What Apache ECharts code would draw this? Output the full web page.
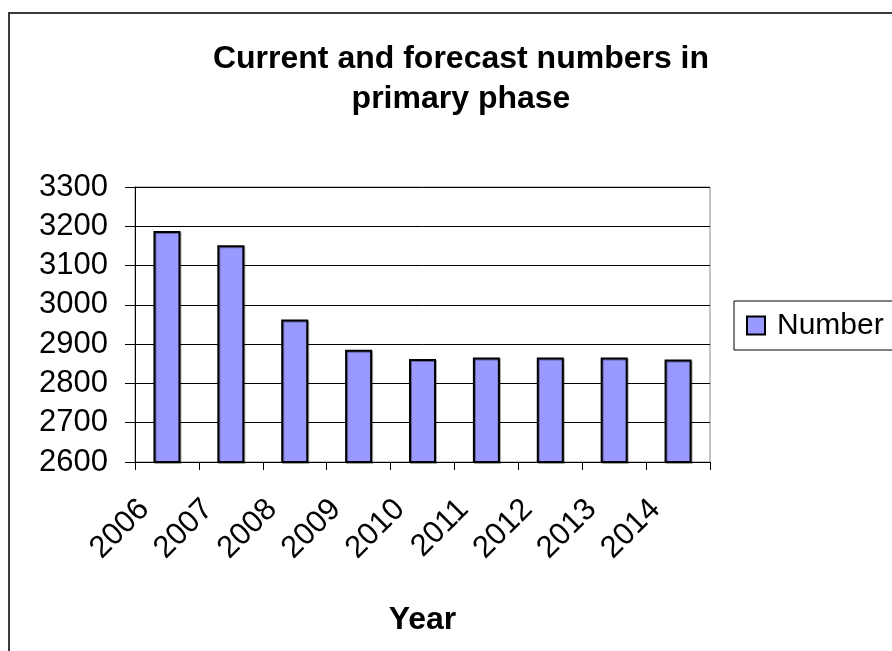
<!DOCTYPE html>
<html lang="en">
<head>
    <meta charset="UTF-8">
    <title>Current and forecast numbers</title>
    <script src="https://cdn.jsdelivr.net/npm/echarts@6/dist/echarts.min.js"></script>
    <style>
        html, body { margin: 0; padding: 0; background: #fff; }
        #main { width: 892px; height: 651px; }
    </style>
</head>
<body>
<div id="main"></div>
<script type="text/javascript">
    // data
    var years = ['2006', '2007', '2008', '2009', '2010', '2011', '2012', '2013', '2014'];
    var numbers = [3188, 3152, 2963, 2886, 2862, 2866, 2866, 2866, 2861];
    var yTicks = { min: 2600, max: 3300, step: 100 };

    var font = '"Liberation Sans", Arial, sans-serif';
    var chart = echarts.init(document.getElementById('main'));

    chart.setOption({
        animation: false,
        backgroundColor: '#fff',
        // outer frame of the chart area
        graphic: [{
            type: 'rect',
            shape: { x: 9, y: 13, width: 1000, height: 1000 },
            style: { fill: 'none', stroke: '#3a3a3a', lineWidth: 2 },
            silent: true
        }],
        title: {
            text: 'Current and forecast numbers in\nprimary phase',
            left: 456,
            top: 34,
            textAlign: 'center',
            textStyle: {
                fontFamily: font,
                fontSize: 32,
                fontWeight: 'bold',
                color: '#000',
                lineHeight: 40
            }
        },
        legend: {
            data: ['Number'],
            left: 734,
            top: 301,
            orient: 'vertical',
            padding: [9, 20, 9, 12],
            borderColor: '#000',
            borderWidth: 1,
            itemWidth: 18,
            itemHeight: 18,
            icon: 'rect',
            textStyle: {
                fontFamily: font,
                fontSize: 30,
                color: '#000',
                lineHeight: 31,
                padding: [0, 0, 0, 7]
            }
        },
        grid: {
            left: 135,
            top: 187,
            right: 182,
            bottom: 189,
            show: true,
            borderColor: '#888',
            borderWidth: 1
        },
        xAxis: {
            type: 'category',
            data: years,
            name: 'Year',
            nameLocation: 'middle',
            nameGap: 142,
            nameTextStyle: {
                fontFamily: font,
                fontSize: 32,
                fontWeight: 'bold',
                color: '#000'
            },
            axisLine: { lineStyle: { color: '#000', width: 1 } },
            axisTick: { show: true, length: 8, lineStyle: { color: '#000' } },
            axisLabel: {
                rotate: 45,
                margin: 20,
                padding: [0, 32, 0, 0],
                fontFamily: font,
                fontSize: 31,
                color: '#000'
            }
        },
        yAxis: {
            type: 'value',
            min: yTicks.min,
            max: yTicks.max,
            interval: yTicks.step,
            axisLine: { show: true, lineStyle: { color: '#000', width: 1 } },
            axisTick: { show: true, length: 10, lineStyle: { color: '#000' } },
            axisLabel: {
                margin: 27,
                fontFamily: font,
                fontSize: 31,
                color: '#000',
                formatter: function (v) { return String(v); }
            },
            splitLine: { show: true, lineStyle: { color: '#000', width: 1 } }
        },
        series: [{
            name: 'Number',
            type: 'bar',
            data: numbers,
            barWidth: 27,
            itemStyle: {
                color: '#9999ff',
                borderColor: '#000',
                borderWidth: 2,
                shadowColor: 'rgba(0,0,0,0.35)',
                shadowOffsetX: 1,
                shadowOffsetY: 1
            }
        }]
    });
</script>
</body>
</html>
